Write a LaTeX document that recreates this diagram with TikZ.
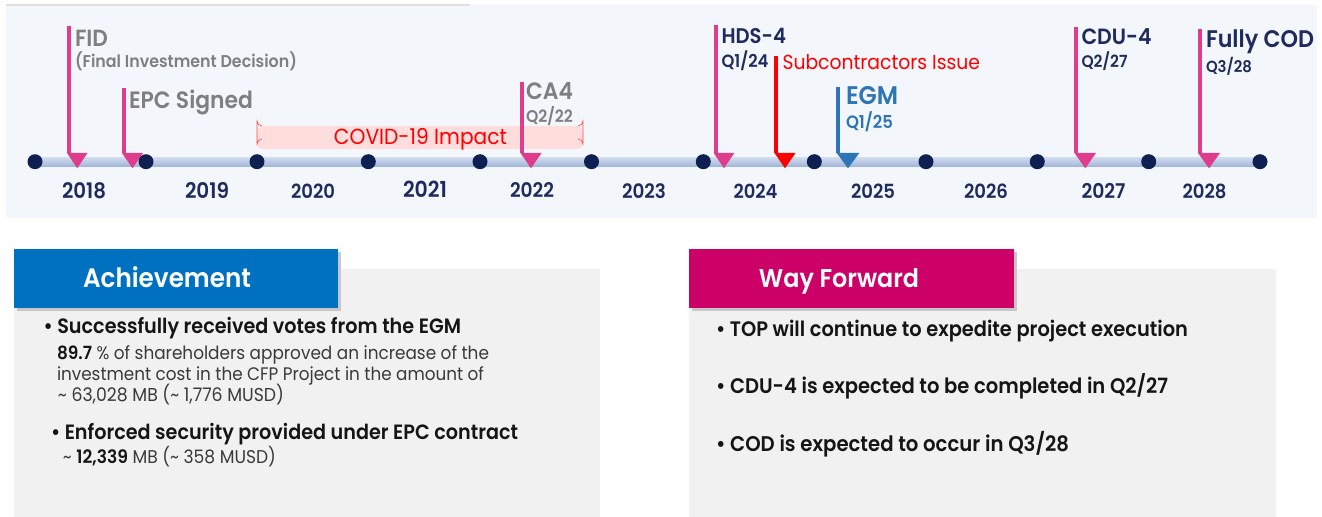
\documentclass[tikz,border=0pt]{standalone}
\usepackage{fontspec}
\usepackage{graphicx}
\setmainfont{Poppins}[BoldFont={Poppins SemiBold}]
\definecolor{panelbg}{HTML}{F3F7FC}
\definecolor{dotnavy}{HTML}{0F1F52}
\definecolor{navytxt}{HTML}{1E2B5C}
\definecolor{mpink}{HTML}{E03C8C}
\definecolor{gtxt}{HTML}{7F7F7F}
\definecolor{egmblue}{HTML}{2E75B6}
\definecolor{covidfill}{HTML}{FFDDDD}
\definecolor{bartop}{HTML}{D3DDEF}
\definecolor{barbot}{HTML}{A4B7DB}
\definecolor{achblue}{HTML}{0070C0}
\definecolor{waymag}{HTML}{CC0066}
\definecolor{graypanel}{HTML}{F1F1F1}
\definecolor{bodytxt}{HTML}{151515}
\definecolor{subtxt}{HTML}{3A3A3A}
\newlength{\pxu}
\setlength{\pxu}{0.75pt}
\newcommand{\fw}[2]{\resizebox{#1\pxu}{!}{\scalebox{1}[1.08]{#2}}}
\begin{document}
\begin{tikzpicture}[x=0.75pt,y=-0.75pt,
  lbl/.style={inner sep=0pt, outer sep=0pt, anchor=base west},
  yr/.style={inner sep=0pt, outer sep=0pt, anchor=base, text=navytxt},
  dot/.style={circle, fill=dotnavy, inner sep=0pt, minimum size=11.25pt},
  mline/.style={line width=3pt},
  hdr/.style={inner sep=0pt, outer sep=0pt, anchor=base, text=white},
]
\useasboundingbox (0,0) rectangle (1322,517);
\fill[white] (0,0) rectangle (1322,517);

% ---------- timeline panel ----------
\fill[panelbg] (6,5) rectangle (1317,218);
\draw[black!12, line width=0.8pt] (6,5) -- (470,5);

% bar
\shade[top color=bartop, bottom color=barbot] (35,157) rectangle (1261,166);

% COVID box
\fill[covidfill, rounded corners=4pt] (257,126) rectangle (583,149);
\draw[red!70, line width=0.5pt] (262,126) arc[start angle=90, end angle=180, radius=5] -- (257,144) arc[start angle=180, end angle=270, radius=5];
\draw[red!70, line width=0.5pt] (578,126) arc[start angle=90, end angle=0, radius=5] -- (583,144) arc[start angle=0, end angle=-90, radius=5];
\node[inner sep=0pt, anchor=base, text=red] (covid) at (420.5,144) {\fw{173}{COVID-19 Impact}};

% markers: coordinates
\coordinate (fidT) at (69,26);     \coordinate (fidB) at (69,153.5);
\coordinate (epcT) at (123.7,88);  \coordinate (epcB) at (123.7,153.5);
\coordinate (caT) at (522,82);     \coordinate (caB) at (522,153.5);
\coordinate (hdsT) at (715.5,25);  \coordinate (hdsB) at (715.5,153.5);
\coordinate (subT) at (776,56);    \coordinate (subB) at (776,153.5);
\coordinate (egmT) at (838.3,87);  \coordinate (egmB) at (838.3,153.5);
\coordinate (cduT) at (1076,27);   \coordinate (cduB) at (1076,153.5);
\coordinate (codT) at (1200,29);   \coordinate (codB) at (1200,153.5);

\draw[mline, mpink] (fidT) -- (fidB);
\draw[mline, mpink] (epcT) -- (epcB);
\draw[mline, mpink] (caT) -- (caB);
\draw[mline, mpink] (hdsT) -- (hdsB);
\draw[mline, red] (subT) -- (subB);
\draw[mline, egmblue] (egmT) -- (egmB);
\draw[mline, mpink] (cduT) -- (cduB);
\draw[mline, mpink] (codT) -- (codB);

% triangles
\fill[mpink] (67,153) -- (87.5,153) -- (77.2,168.3) -- cycle;
\fill[mpink] (122,153) -- (143,153) -- (132.5,168.3) -- cycle;
\fill[mpink] (520.5,153) -- (541.5,153) -- (531,168.3) -- cycle;
\fill[mpink] (713.7,153) -- (734.3,153) -- (724,168.3) -- cycle;
\fill[red] (774.5,153) -- (795.5,153) -- (785,168.3) -- cycle;
\fill[egmblue] (836.7,153) -- (859.3,153) -- (848,168.3) -- cycle;
\fill[mpink] (1074.5,153) -- (1096,153) -- (1085.3,168.3) -- cycle;
\fill[mpink] (1198,153) -- (1220,153) -- (1209,168.3) -- cycle;

% dots
\foreach \i/\x in {1/35,2/146,3/257,4/368.3,5/480,6/591.5,7/703.3,8/814.3,9/926,10/1037.3,11/1148.7,12/1260}
  \node[dot] (dot\i) at (\x,161.7) {};

% years
\foreach \y/\x in {2018/84,2019/207,2020/313,2021/425,2022/532,2023/644,2024/755.5,2025/873,2026/986,2027/1103.5,2028/1204.5}
  \node[yr] (y\y) at (\x,198) {\fw{44}{\bfseries \y}};

% marker labels
\node[lbl, text=gtxt] (fid) at (75,46.7) {\fw{33}{\bfseries FID}};
\node[lbl, text=gtxt] (fidsub) at (75,67.5) {\fw{222}{\bfseries (Final Investment Decision)}};
\node[lbl, text=gtxt] (epc) at (129,108.3) {\fw{124}{\bfseries EPC Signed}};
\node[lbl, text=gtxt] (ca4) at (526,99.3) {\fw{47}{\bfseries CA4}};
\node[lbl, text=gtxt] (ca4q) at (526,123) {\fw{47}{\bfseries Q2/22}};
\node[lbl, text=navytxt] (hds) at (721.5,44) {\fw{64.5}{\bfseries HDS-4}};
\node[lbl, text=navytxt] (hdsq) at (721.5,68) {\fw{47}{\bfseries Q1/24}};
\node[lbl, text=red] (sub) at (782.5,70) {\fw{197.5}{Subcontractors Issue}};
\node[lbl, text=egmblue] (egm) at (846,104.3) {\fw{52}{\bfseries EGM}};
\node[lbl, text=egmblue] (egmq) at (846,129) {\fw{47}{\bfseries Q1/25}};
\node[lbl, text=navytxt] (cdu) at (1081.5,44.3) {\fw{70}{\bfseries CDU-4}};
\node[lbl, text=navytxt] (cduq) at (1081.5,68) {\fw{46}{\bfseries Q2/27}};
\node[lbl, text=navytxt] (cod) at (1206,48) {\fw{108}{\bfseries Fully COD}};
\node[lbl, text=navytxt] (codq) at (1206,73) {\fw{46}{\bfseries Q3/28}};

% ---------- Achievement ----------
\fill[graypanel] (14,269) rectangle (600,517);
\fill[black!22] (16.5,251.5) rectangle (340.5,310.5);
\fill[achblue] (14,249) rectangle (338,308);
\node[hdr] (ach) at (167,287) {\fw{168}{\bfseries Achievement}};

\node[lbl, text=bodytxt] (a1) at (43.5,333) {\fw{417.5}{\bfseries • Successfully received votes from the EGM}};
\node[lbl, text=subtxt] (a1l1) at (57,359) {\fw{432}{{\bfseries\color{bodytxt}89.7} \% of shareholders approved an increase of the}};
\node[lbl, text=subtxt] (a1l2) at (57,380) {\fw{427}{investment cost in the CFP Project in the amount of}};
\node[lbl, text=subtxt] (a1l3) at (58,401) {\fw{226}{\textasciitilde{} 63,028 MB (\textasciitilde{} 1,776 MUSD)}};
\node[lbl, text=bodytxt] (a2) at (51,439) {\fw{467}{\bfseries • Enforced security provided under EPC contract}};
\node[lbl, text=subtxt] (a2l1) at (63,463) {\fw{213}{\textasciitilde{} {\bfseries\color{bodytxt}12,339} MB (\textasciitilde{} 358 MUSD)}};

% ---------- Way Forward ----------
\fill[graypanel] (689,269) rectangle (1276,517);
\fill[black!22] (691.5,251.5) rectangle (1016.5,310.5);
\fill[waymag] (689,249) rectangle (1014,308);
\node[hdr] (way) at (839,287) {\fw{160}{\bfseries Way Forward}};

\node[lbl, text=bodytxt] (w1) at (716,336) {\fw{472}{\bfseries • TOP will continue to expedite project execution}};
\node[lbl, text=bodytxt] (w2) at (716,393) {\fw{452}{\bfseries • CDU-4 is expected to be completed in Q2/27}};
\node[lbl, text=bodytxt] (w3) at (716,451) {\fw{353}{\bfseries • COD is expected to occur in Q3/28}};
\end{tikzpicture}
\end{document}
